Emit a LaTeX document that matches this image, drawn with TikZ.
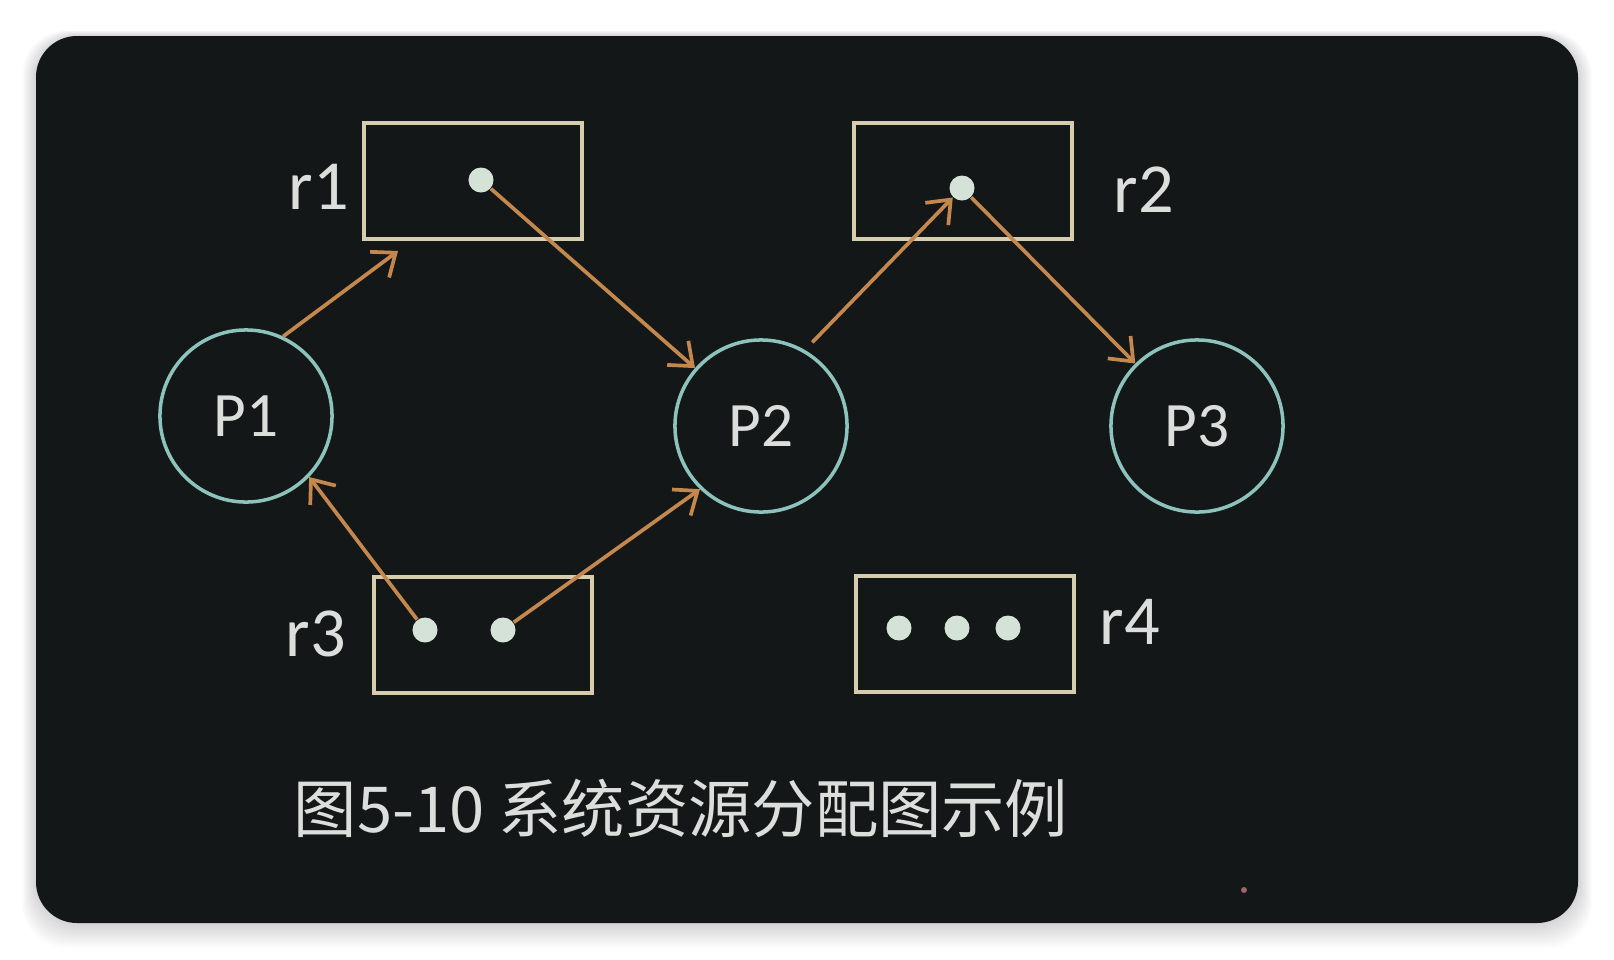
\documentclass[tikz,border=0pt]{standalone}
\usepackage{fontspec}
\setmainfont{Carlito}
\newfontfamily\cjk{Noto Sans CJK SC}
\usetikzlibrary{arrows.meta}

\definecolor{panelbg}{HTML}{131718}
\definecolor{boxline}{HTML}{D6CDAE}
\definecolor{procline}{HTML}{8CC3BC}
\definecolor{unitfill}{HTML}{D5E2D8}
\definecolor{reqarrow}{HTML}{C4874E}
\definecolor{labeltext}{HTML}{DCDEDB}

\begin{document}
\begin{tikzpicture}[x=0.01cm, y=-0.01cm,
        res/.style={draw=boxline, line width=1.1pt, minimum width=2.18cm, minimum height=1.16cm, inner sep=0pt},
        proc/.style={circle, draw=procline, line width=1pt, minimum size=1.72cm, inner sep=0pt,
                     text=labeltext, font=\fontsize{18}{20}\selectfont},
        unit/.style={circle, fill=unitfill, minimum size=0.25cm, inner sep=0pt},
        lbl/.style={text=labeltext, inner sep=0pt, font=\fontsize{20}{22}\selectfont},
        arr/.style={-{Straight Barb[length=2mm,width=3.2mm]}, line width=1.05pt, draw=reqarrow}
    ]
        \useasboundingbox[fill=white] (0,0) rectangle (1614,960);
        % soft shadow and dark panel
        \foreach \s in {1,...,14}
            \fill[black, opacity=0.013, rounded corners=0.45cm] (36-\s, 36-0.4*\s) rectangle (1578+\s, 923+1.8*\s);
        \fill[panelbg, rounded corners=0.41cm] (36,36) rectangle (1578,923);

        % resources
        \node[res] (r1) at (473,181) {};
        \node[res] (r2) at (963,181) {};
        \node[res] (r3) at (483,635) {};
        \node[res] (r4) at (965,634) {};
        \node[lbl] (r1lbl) at (319,187) {r1};
        \node[lbl] (r2lbl) at (1144,190) {r2};
        \node[lbl] (r3lbl) at (316,634) {r3};
        \node[lbl] (r4lbl) at (1130,622) {r4};

        \node[unit] (r1d) at (481,180) {};
        \node[unit] (r2d) at (962,188) {};
        \node[unit] (r3da) at (425,630) {};
        \node[unit] (r3db) at (503,630) {};
        \foreach \x [count=\i] in {899,957,1008}
            \node[unit] (r4d\i) at (\x,628) {};

        % processes
        \node[proc] (P1) at (246,416) {P1};
        \node[proc] (P2) at (761,426) {P2};
        \node[proc] (P3) at (1197,426) {P3};

        % requests and assignments
        \draw[arr] (P1.65) -- ([xshift=0.36cm, yshift=-0.1cm]r1.south west);
        \draw[arr] (r1d) -- (P2);
        \draw[arr, shorten <=3pt] (P2.60) -- (r2d);
        \draw[arr] (r2d) -- (P3);
        \draw[arr] (r3da) -- (P1.-44);
        \draw[arr] (r3db) -- (P2.226);

        \node[anchor=west, inner sep=0pt, text=labeltext, font=\cjk\fontsize{18}{20}\selectfont] (caption)
            at (293,808) {图5-10 系统资源分配图示例};

        \fill[red!40!white, opacity=0.6] (1244,890) circle (3);
    \end{tikzpicture}
\end{document}
